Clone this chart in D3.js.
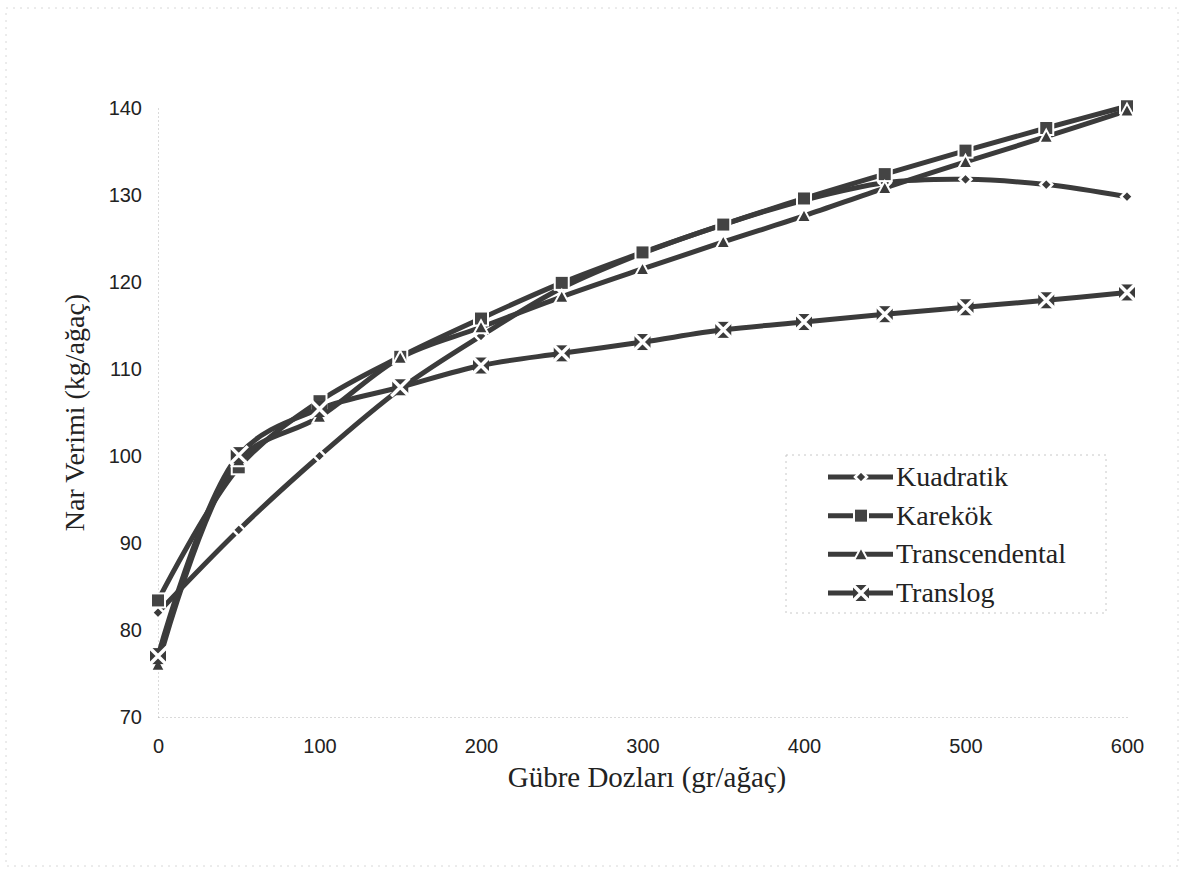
<!DOCTYPE html>
<html>
<head>
  <meta charset="utf-8">
  <title>Nar Verimi</title>
  <script src="https://d3js.org/d3.v7.min.js"></script>
  <style>
    body { margin: 0; background: #fff; }
  </style>
</head>
<body>
  <script>
    // values
    var doses = [0, 50, 100, 150, 200, 250, 300, 350, 400, 450, 500, 550, 600];
    var kuadratik = [82.0, 91.5, 100.0, 107.7, 113.8, 119.3, 123.3, 126.6, 129.4, 131.4, 131.8, 131.2, 129.8];
    var karekok = [83.4, 98.7, 106.3, 111.4, 115.8, 119.9, 123.4, 126.6, 129.6, 132.4, 135.1, 137.7, 140.2];
    var transcendental = [76.0, 99.5, 104.5, 111.3, 114.8, 118.3, 121.5, 124.6, 127.6, 130.8, 133.8, 136.7, 139.7];
    var translog = [77.0, 100.1, 105.4, 107.9, 110.4, 111.8, 113.1, 114.5, 115.4, 116.3, 117.1, 117.9, 118.8];
    var seriesNames = ['Kuadratik', 'Karekök', 'Transcendental', 'Translog'];
    var markerTypes = ['diamond', 'square', 'triangle', 'cross'];
    var xTicks = [0, 100, 200, 300, 400, 500, 600];
    var yTicks = [70, 80, 90, 100, 110, 120, 130, 140];

    var series = [kuadratik, karekok, transcendental, translog].map(function(vals, i) {
      return {
        name: seriesNames[i],
        marker: markerTypes[i],
        points: vals.map(function(v, j) { return { x: doses[j], y: v }; })
      };
    });

    var width = 1184, height = 879;
    var margin = { top: 108, right: 57, bottom: 162, left: 158 };
    var lineColor = '#3b3b3b';
    var serif = 'Liberation Serif, Times New Roman, serif';

    var svg = d3.select('body').append('svg')
      .attr('width', width)
      .attr('height', height);

    // faint outer frame from the scan
    svg.append('rect')
      .attr('x', 6).attr('y', 8)
      .attr('width', 1172).attr('height', 858)
      .attr('fill', 'none')
      .attr('stroke', '#d8d8d8')
      .attr('stroke-dasharray', '2,5');

    var x = d3.scaleLinear().domain([0, 600]).range([margin.left, width - margin.right]);
    var y = d3.scaleLinear().domain([70, 140]).range([height - margin.bottom, margin.top]);

    // axes: faint dotted lines, no tick marks
    var yAxis = d3.axisLeft(y).tickValues(yTicks).tickSize(0).tickPadding(16);
    var yg = svg.append('g')
      .attr('transform', 'translate(' + x(0) + ',0)')
      .call(yAxis);
    var xAxis = d3.axisBottom(x).tickValues(xTicks).tickSize(0).tickPadding(22);
    var xg = svg.append('g')
      .attr('transform', 'translate(0,' + y(70) + ')')
      .call(xAxis);
    [yg, xg].forEach(function(g) {
      g.select('.domain')
        .attr('stroke', '#b5b5b5')
        .attr('stroke-width', 1)
        .attr('stroke-dasharray', '1,3');
      g.selectAll('text')
        .attr('font-family', 'Liberation Sans, Arial, sans-serif')
        .attr('font-size', 20)
        .attr('fill', '#222');
    });

    svg.append('text')
      .attr('transform', 'translate(84,' + ((margin.top + height - margin.bottom) / 2) + ') rotate(-90)')
      .attr('text-anchor', 'middle')
      .attr('font-family', serif)
      .attr('font-size', 28)
      .attr('fill', '#222')
      .text('Nar Verimi (kg/ağaç)');

    svg.append('text')
      .attr('x', 647)
      .attr('y', 787)
      .attr('text-anchor', 'middle')
      .attr('font-family', serif)
      .attr('font-size', 29)
      .attr('fill', '#222')
      .text('Gübre Dozları (gr/ağaç)');

    var line = d3.line()
      .x(function(d) { return x(d.x); })
      .y(function(d) { return y(d.y); })
      .curve(d3.curveCatmullRom.alpha(0.5));

    svg.append('g').selectAll('path')
      .data(series)
      .enter().append('path')
      .attr('d', function(d) { return line(d.points); })
      .attr('fill', 'none')
      .attr('stroke', lineColor)
      .attr('stroke-width', 5);

    function drawMarker(g, type) {
      if (type === 'diamond') {
        g.append('path').attr('d', 'M0,-6L6,0L0,6L-6,0Z')
          .attr('fill', lineColor).attr('stroke', '#fff').attr('stroke-width', 2.5);
      } else if (type === 'square') {
        g.append('rect').attr('x', -7).attr('y', -7).attr('width', 14).attr('height', 14)
          .attr('fill', '#444').attr('stroke', '#fff').attr('stroke-width', 2);
      } else if (type === 'triangle') {
        g.append('path').attr('d', 'M0,-7L7,6L-7,6Z')
          .attr('fill', lineColor).attr('stroke', '#fff').attr('stroke-width', 2);
      } else {
        g.append('rect').attr('x', -8).attr('y', -8).attr('width', 16).attr('height', 16)
          .attr('fill', lineColor);
        g.append('path').attr('d', 'M-9,-9L9,9M9,-9L-9,9')
          .attr('stroke', '#fff').attr('stroke-width', 3.5);
      }
    }

    series.forEach(function(s) {
      svg.append('g').selectAll('g')
        .data(s.points)
        .enter().append('g')
        .attr('transform', function(d) { return 'translate(' + x(d.x) + ',' + y(d.y) + ')'; })
        .each(function() { drawMarker(d3.select(this), s.marker); });
    });

    // legend
    var legend = svg.append('g');
    legend.append('rect')
      .attr('x', 786).attr('y', 455)
      .attr('width', 320).attr('height', 158)
      .attr('fill', '#fff')
      .attr('stroke', '#c8c8c8')
      .attr('stroke-dasharray', '2,4');
    var ly = d3.scalePoint().domain(seriesNames).range([477, 593]);
    series.forEach(function(s) {
      var g = legend.append('g').attr('transform', 'translate(0,' + ly(s.name) + ')');
      g.append('line')
        .attr('x1', 828).attr('x2', 893)
        .attr('stroke', lineColor).attr('stroke-width', 5);
      drawMarker(g.append('g').attr('transform', 'translate(861,0)'), s.marker);
      g.append('text')
        .attr('x', 896).attr('y', 9)
        .attr('font-family', serif)
        .attr('font-size', 28)
        .attr('fill', '#222')
        .text(s.name);
    });
  </script>
</body>
</html>
